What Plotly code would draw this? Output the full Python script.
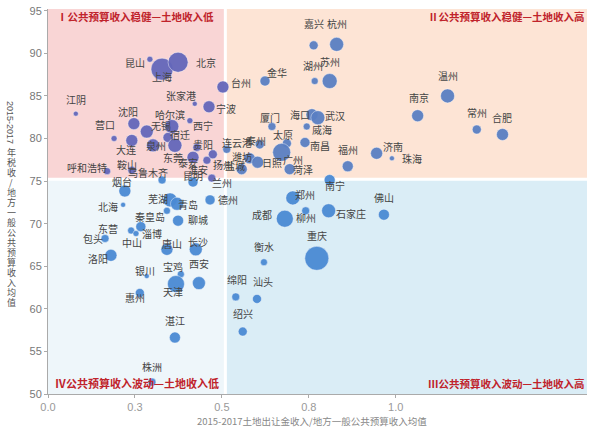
import plotly.graph_objects as go

cities = ["昆山", "上海", "北京", "张家港", "宁波", "台州", "江阴", "沈阳", "营口", "大连",
          "无锡", "哈尔滨", "西宁", "宿迁", "泉州", "东莞", "贵阳", "泰安", "淮安", "扬州",
          "昆明", "兰州", "乌鲁木齐", "鞍山", "呼和浩特",
          "嘉兴", "杭州", "湖州", "苏州", "金华", "南京", "温州", "常州", "合肥", "海口",
          "武汉", "威海", "厦门", "太原", "广州", "南昌", "菏泽", "福州", "济南", "珠海",
          "南宁", "连云港", "泰州", "潍坊", "日照", "盐城",
          "烟台", "北海", "芜湖", "青岛", "德州", "秦皇岛", "聊城", "东营", "淄博", "中山",
          "包头", "洛阳", "唐山", "长沙", "银川", "宝鸡", "西安", "天津", "惠州", "湛江", "株洲",
          "郑州", "成都", "柳州", "石家庄", "佛山", "重庆", "衡水", "绵阳", "汕头", "绍兴"]

land_ratio = [0.293, 0.328, 0.374, 0.422, 0.463, 0.503, 0.080, 0.247, 0.190, 0.241,
              0.284, 0.356, 0.408, 0.345, 0.302, 0.365, 0.428, 0.417, 0.457, 0.474,
              0.417, 0.471, 0.328, 0.241, 0.170,
              0.764, 0.830, 0.767, 0.810, 0.624, 1.063, 1.149, 1.233, 1.307, 0.759,
              0.776, 0.744, 0.644, 0.687, 0.672, 0.739, 0.695, 0.862, 0.945, 0.989,
              0.810, 0.514, 0.609, 0.580, 0.603, 0.557,
              0.221, 0.216, 0.351, 0.371, 0.466, 0.342, 0.374, 0.239, 0.267, 0.253,
              0.164, 0.181, 0.342, 0.425, 0.284, 0.382, 0.434, 0.368, 0.264, 0.365, 0.299,
              0.704, 0.681, 0.741, 0.807, 0.966, 0.773, 0.621, 0.540, 0.601, 0.560]

tax_share = [89.30, 88.14, 88.95, 84.07, 83.72, 86.05, 82.91, 81.74, 80.00, 79.77,
             80.81, 81.40, 82.09, 80.12, 79.19, 79.19, 78.95, 77.79, 77.44, 78.14,
             74.88, 75.35, 75.12, 76.28, 76.16,
             90.93, 91.05, 86.74, 86.74, 86.74, 82.67, 85.00, 81.05, 80.47, 82.79,
             82.44, 81.40, 81.40, 79.42, 78.37, 79.53, 76.40, 76.74, 78.26, 77.67,
             75.12, 78.72, 79.30, 77.67, 77.21, 76.40,
             73.84, 72.21, 72.79, 72.33, 72.79, 71.51, 70.35, 69.19, 69.65, 68.84,
             68.26, 66.28, 66.98, 66.98, 63.84, 64.07, 63.02, 62.91, 61.86, 56.63, 51.40,
             73.02, 70.58, 71.51, 71.51, 71.05, 65.93, 65.47, 61.40, 61.16, 57.33]

budget_size = [6, 22, 20, 5, 12, 12, 5, 12, 6, 12,
               13, 14, 6, 10, 13, 14, 8, 12, 8, 9,
               10, 8, 8, 8, 7,
               9, 14, 7, 15, 10, 12, 14, 9, 12, 12,
               14, 7, 8, 9, 18, 10, 11, 11, 12, 5,
               11, 8, 9, 11, 12, 11,
               12, 5, 14, 13, 10, 7, 11, 7, 10, 6,
               8, 12, 12, 13, 5, 7, 13, 17, 9, 11, 8,
               14, 17, 8, 14, 11, 24, 7, 8, 9, 9]

# label offsets (pixels) relative to each bubble
label_dx = [-15, 0, 28, -14, 17, 18, 0, -6, -9, -6,
            14, -2, 13, 12, 3, -2, 6, -5, -9, 10,
            0, 10, -14, -5, -20,
            0, 0, -2, 0, 12, 1, 0, 0, -1, -12,
            17, 15, -2, -4, 11, 15, 13, 0, 16, 20,
            5, 10, -4, -8, 14, -7,
            -3, -15, -12, 11, 18, -17, 20, -23, 11, -4,
            -12, -13, 5, 2, -2, -8, 0, -3, -5, 0, 0,
            12, -23, 0, 22, 0, 0, 0, 1, 6, 0]
label_dy = [-3, -7, 0, 8, -2, 4, 14, 12, 14, -9,
            6, 12, -5, 3, 0, -12, 3, -5, -9, -10,
            7, -4, 8, 6, 4,
            22, 21, 16, 20, 9, 18, 20, 17, 17, 0,
            2, -3, 9, 9, -7, -3, 0, 17, 7, 0,
            -5, 7, 4, 2, 0, 4,
            9, -2, 1, -1, 0, -6, 1, 2, -7, -9,
            0, -3, 6, 8, 6, 8, 20, -7, -5, 17, 16,
            3, 4, -7, -3, 17, 23, 16, 17, 17, 18]

x_split, y_split = 0.51, 75.2
quadrant_titles = ["Ⅰ公共预算收入稳健—土地收入低", "Ⅱ公共预算收入稳健—土地收入高",
                   "Ⅲ公共预算收入波动—土地收入高", "Ⅳ公共预算收入波动—土地收入低"]
y_ticks = [50, 55, 60, 65, 70, 75, 80, 85, 90, 95]
x_tickvals = [0, 0.25, 0.5, 0.75, 1.0]
x_ticktext = ["0.0", "0.3", "0.5", "0.8", "1.0"]
x_title = "2015-2017土地出让金收入/地方一般公共预算收入均值"
y_title_num = "2015-2017"
y_title_cn = "年税收/地方一般公共预算收入均值"

XMAX, YMIN, YMAX = 1.55, 50, 95.2
FONT = "Noto Sans CJK SC, Liberation Sans, sans-serif"


def color_for(x, y):
    if y >= y_split:
        return "#6467ba" if x < x_split else "#5a7fc3"
    return "#4a8ad4"


colors = [color_for(x, y) for x, y in zip(land_ratio, tax_share)]

fig = go.Figure()
fig.add_trace(go.Scatter(
    x=land_ratio, y=tax_share, mode="markers",
    marker=dict(size=budget_size, sizemode="diameter", color=colors, opacity=0.95,
                line=dict(width=0.8, color="rgba(255,255,255,0.55)")),
    hovertext=cities, showlegend=False))

shapes = [
    dict(type="rect", xref="x", yref="y", x0=0, x1=x_split, y0=y_split, y1=YMAX,
         fillcolor="#f9d5d5", line_width=0, layer="below"),
    dict(type="rect", xref="x", yref="y", x0=x_split, x1=XMAX, y0=y_split, y1=YMAX,
         fillcolor="#fde4d5", line_width=0, layer="below"),
    dict(type="rect", xref="x", yref="y", x0=0, x1=x_split, y0=YMIN, y1=y_split,
         fillcolor="#eef6fa", line_width=0, layer="below"),
    dict(type="rect", xref="x", yref="y", x0=x_split, x1=XMAX, y0=YMIN, y1=y_split,
         fillcolor="#daedf6", line_width=0, layer="below"),
    dict(type="line", xref="x", yref="y", x0=x_split, x1=x_split, y0=YMIN, y1=YMAX,
         line=dict(color="white", width=3), layer="below"),
    dict(type="line", xref="x", yref="y", x0=0, x1=XMAX, y0=y_split, y1=y_split,
         line=dict(color="white", width=3), layer="below"),
]

annotations = []
for name, x, y, dx, dy in zip(cities, land_ratio, tax_share, label_dx, label_dy):
    annotations.append(dict(x=x, y=y, xref="x", yref="y", text=name, showarrow=False,
                            xshift=dx, yshift=dy,
                            font=dict(family=FONT, size=10, color="#444444")))

qfont = dict(family=FONT, size=10.5, color="#c0232b")
annotations += [
    dict(x=0.02, y=94.3, xref="x", yref="y", text="<b>" + quadrant_titles[0] + "</b>",
         showarrow=False, xanchor="left", font=qfont),
    dict(x=1, y=94.3, xref="paper", yref="y", text="<b>" + quadrant_titles[1] + "</b>",
         showarrow=False, xanchor="right", font=qfont),
    dict(x=1, y=51.2, xref="paper", yref="y", text="<b>" + quadrant_titles[2] + "</b>",
         showarrow=False, xanchor="right", font=qfont),
    dict(x=0.015, y=51.3, xref="x", yref="y", text="<b>" + quadrant_titles[3] + "</b>",
         showarrow=False, xanchor="left", font=dict(family=FONT, size=11, color="#c0232b")),
    dict(x=0.49, y=0, xref="paper", yref="paper", text=x_title, showarrow=False,
         yanchor="middle", yshift=-27, font=dict(family=FONT, size=9.5, color="#888888")),
    dict(x=0, y=0, xref="paper", yref="paper", text=y_title_num, showarrow=False,
         textangle=90, xshift=-38, yshift=272, xanchor="center", yanchor="middle",
         font=dict(family="Liberation Sans, sans-serif", size=9, color="#555555")),
]
for i, ch in enumerate(y_title_cn):
    annotations.append(dict(x=0, y=0, xref="paper", yref="paper", text=ch, showarrow=False,
                            xshift=-37, yshift=242 - i * 10, xanchor="center",
                            yanchor="middle",
                            font=dict(family=FONT, size=9, color="#555555")))

fig.update_layout(
    width=594, height=427,
    margin=dict(l=48, r=7, t=5, b=33),
    paper_bgcolor="white", plot_bgcolor="white",
    shapes=shapes, annotations=annotations,
    xaxis=dict(range=[0, XMAX], tickvals=x_tickvals, ticktext=x_ticktext,
               showgrid=False, zeroline=False, showline=True, linecolor="#aaaaaa",
               ticks="outside", ticklen=3, tickcolor="#aaaaaa",
               tickfont=dict(family="Liberation Sans, sans-serif", size=11, color="#999999")),
    yaxis=dict(range=[YMIN, YMAX], tickvals=y_ticks, ticksuffix="%",
               showgrid=False, zeroline=False, showline=True, linecolor="#aaaaaa",
               ticks="outside", ticklen=3, tickcolor="#aaaaaa",
               tickfont=dict(family="Liberation Sans, sans-serif", size=11, color="#777777")),
)

fig.write_html("out.html")
